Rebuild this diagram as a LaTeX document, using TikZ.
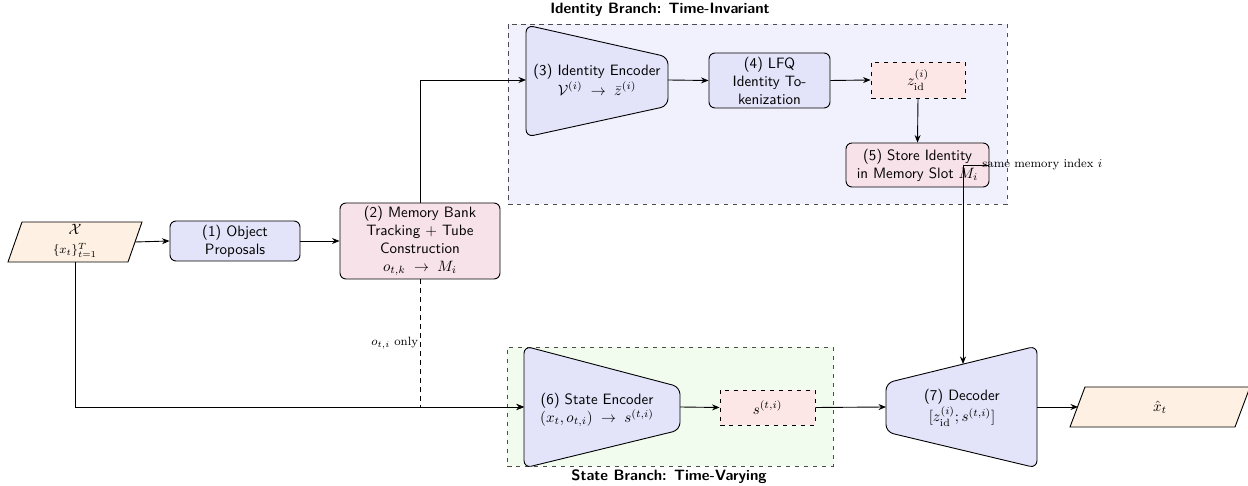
\documentclass[tikz,border=0pt]{standalone}
\usetikzlibrary{arrows.meta,calc}

\definecolor{procfill}{HTML}{E3E3FA}
\definecolor{memfill}{HTML}{F8E2EA}
\definecolor{latfill}{HTML}{FDE6E6}
\definecolor{iofill}{HTML}{FEF1E3}
\definecolor{idbg}{HTML}{F1F1FD}
\definecolor{stbg}{HTML}{F1FCEF}

% one drawing unit
\def\pxu{0.667pt}

\tikzset{
  base/.style={line width=0.6pt},
  proc/.style={base, draw, rounded corners=4pt, fill=procfill, align=center, inner sep=1pt},
  membox/.style={base, draw, rounded corners=4pt, fill=memfill, align=center, inner sep=1pt},
  latent/.style={base, draw, dashed, fill=latfill, align=center, inner sep=1pt},
  branch/.style={base, draw, dashed, draw=black!70},
  trap/.style={base, draw, fill=procfill, rounded corners=5pt},
  iobox/.style={base, draw, fill=iofill},
  txt/.style={align=center, inner sep=1pt},
  lbl/.style={font=\footnotesize\rmfamily, inner sep=1pt},
  title/.style={font=\sffamily\bfseries},
  conn/.style={base, -{Stealth[length=5pt,width=4pt]}},
}

\begin{document}
\begin{tikzpicture}[x=\pxu, y=-\pxu, font=\sffamily]
\useasboundingbox (0,0) rectangle (1248,486);

% branch backgrounds
\node[branch, fill=idbg, minimum width=499*\pxu, minimum height=180*\pxu, inner sep=0pt]
  (idbranch) at (757.5,114) {};
\node[title] (idtitle) at (660,10) {Identity Branch: Time-Invariant};
\node[branch, fill=stbg, minimum width=326*\pxu, minimum height=119*\pxu, inner sep=0pt]
  (stbranch) at (670,406.5) {};
\node[title] (sttitle) at (669,477) {State Branch: Time-Varying};

% input frames
\draw[iobox] (8,262) -- (22,222) -- (142,222) -- (128,262) -- cycle;
\node[txt] (in) at (75,241) {$\mathcal{X}$\\[1pt]{\footnotesize$\{x_t\}_{t=1}^{T}$}};
\coordinate (inE) at (135,242);
\coordinate (inS) at (75,262);

% (1) proposals and (2) memory bank
\node[proc, minimum width=130*\pxu, minimum height=40*\pxu] (prop) at (235,241)
  {(1) Object\\Proposals};
\node[membox, minimum width=160*\pxu, minimum height=76*\pxu] (mem) at (420,241)
  {(2) Memory Bank\\Tracking + Tube\\Construction\\$o_{t,k} \;\to\; M_i$};

% (3) identity encoder
\draw[trap] (526,25) -- (668,57) -- (668,106) -- (526,137) -- cycle;
\node[txt] (enc3) at (597,80) {(3) Identity Encoder\\[1pt]$\mathcal{V}^{(i)} \;\to\; \bar{z}^{(i)}$};
\coordinate (enc3W) at (526,80);
\coordinate (enc3E) at (668,80);

% (4) LFQ, latent z_id, (5) store
\node[proc, minimum width=121*\pxu, minimum height=55*\pxu] (lfq) at (769.5,80.5)
  {(4) LFQ\\Identity To-\\kenization};
\node[latent, minimum width=94*\pxu, minimum height=36*\pxu] (zid) at (918,80)
  {$z_{\mathrm{id}}^{(i)}$};
\node[membox, minimum width=143*\pxu, minimum height=44*\pxu] (store) at (917.5,165)
  {(5) Store Identity\\in Memory Slot $M_i$};

% (6) state encoder
\draw[trap] (524,346) -- (680,387) -- (680,430) -- (524,468) -- cycle;
\node[txt] (enc6) at (597,410) {(6) State Encoder\\$(x_t, o_{t,i}) \;\to\; s^{(t,i)}$};
\coordinate (enc6W) at (524,407);
\coordinate (enc6E) at (680,407);

% latent s
\node[latent, minimum width=95*\pxu, minimum height=35*\pxu] (s) at (767.5,407.5)
  {$s^{(t,i)}$};

% (7) decoder
\draw[trap] (886,383) -- (1037,346) -- (1037,468) -- (886,432) -- cycle;
\node[txt] (dec) at (962,408) {(7) Decoder\\$[z_{\mathrm{id}}^{(i)}; s^{(t,i)}]$};
\coordinate (decW) at (886,407);
\coordinate (decE) at (1037,407);
\coordinate (decN) at (963,364);

% output frame
\draw[iobox] (1070,427) -- (1085,387) -- (1250,387) -- (1235,427) -- cycle;
\node[txt] (out) at (1160,407) {$\hat{x}_t$};
\coordinate (outW) at (1078,407);

% connectors
\draw[conn] (inE) -- (prop.west);
\draw[conn] (prop.east) -- (mem.west);
\draw[conn] (mem.north) |- (enc3W);
\draw[conn] (enc3E) -- (lfq.west);
\draw[conn] (lfq.east) -- (zid.west);
\draw[conn] (zid.south) -- (store.north);
\draw[conn] (store.east) -| (decN)
  node[pos=0, lbl, anchor=west, xshift=-6pt] {same memory index $i$};
\draw[conn] (inS) |- (enc6W);
\draw[conn, dashed] (mem.south) |- (enc6W)
  node[pos=0.25, lbl, left] {$o_{t,i}$ only};
\draw[conn] (enc6E) -- (s.west);
\draw[conn] (s.east) -- (decW);
\draw[conn] (decE) -- (outW);
\end{tikzpicture}
\end{document}
